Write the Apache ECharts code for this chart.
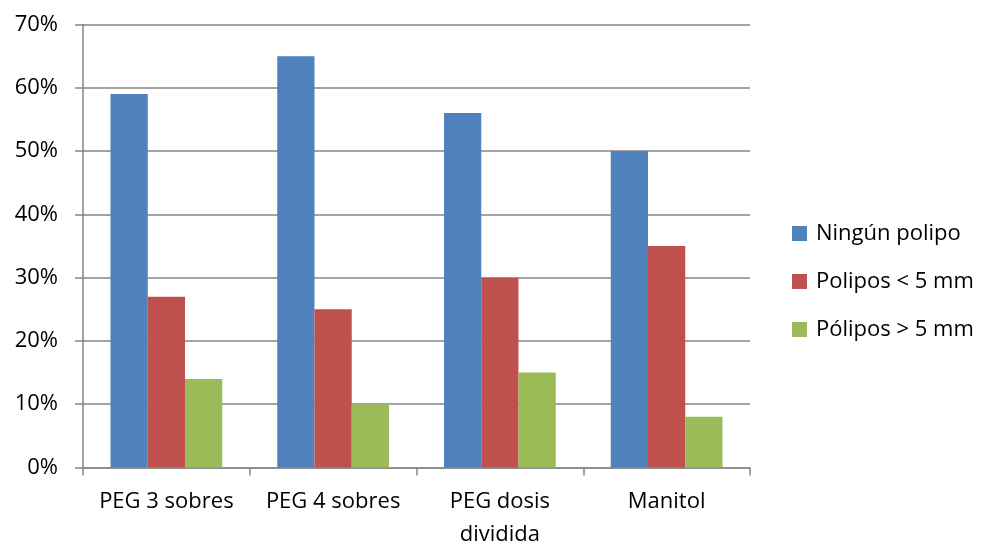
<!DOCTYPE html>
<html>
<head>
<meta charset="utf-8">
<script src="https://cdn.jsdelivr.net/npm/echarts@6/dist/echarts.min.js"></script>
<style>
  html, body { margin: 0; padding: 0; background: #ffffff; }
  #chart { width: 984px; height: 546px; }
</style>
</head>
<body>
<div id="chart"></div>
<script>
// Preparations compared and the share of patients in each polyp group
const categories = ['PEG 3 sobres', 'PEG 4 sobres', 'PEG dosis\ndividida', 'Manitol'];
const seriesNames = ['Ningún polipo', 'Polipos < 5 mm', 'Pólipos > 5 mm'];
const ningunPolipo = [59, 65, 56, 50];
const polipoMenor5 = [27, 25, 30, 35];
const polipoMayor5 = [14, 10, 15, 8];
const colors = ['#4F81BD', '#C0504D', '#9BBB59'];

const font = '"Open Sans", sans-serif';
const chart = echarts.init(document.getElementById('chart'));

const makeSeries = (name, data, color) => ({
  name: name,
  type: 'bar',
  data: data,
  barGap: '0%',
  barCategoryGap: '33%',
  itemStyle: { color: color },
  animation: false
});

chart.setOption({
  animation: false,
  color: colors,
  grid: { left: 83, right: 234, top: 24.5, bottom: 78.5, containLabel: false, outerBoundsMode: 'none' },
  legend: {
    orient: 'vertical',
    left: 787,
    top: 217.5,
    itemWidth: 15,
    itemHeight: 15,
    itemGap: 26,
    icon: 'rect',
    textStyle: { fontFamily: font, fontSize: 22, lineHeight: 22, color: '#000000', padding: [0, 0, 0, 4] },
    data: seriesNames
  },
  xAxis: {
    type: 'category',
    data: categories,
    axisLine: { lineStyle: { color: '#868686', width: 1.5 } },
    axisTick: { show: true, length: 8, inside: false, alignWithLabel: false, lineStyle: { color: '#868686', width: 1.5 } },
    axisLabel: { fontFamily: font, fontSize: 22, color: '#000000', margin: 18, lineHeight: 33, interval: 0 }
  },
  yAxis: {
    type: 'value',
    min: 0,
    max: 70,
    interval: 10,
    axisLine: { show: true, lineStyle: { color: '#868686', width: 1.5 } },
    axisTick: { show: true, length: 8, lineStyle: { color: '#868686', width: 1.5 } },
    splitLine: { show: true, lineStyle: { color: '#868686', width: 1.5 } },
    axisLabel: { fontFamily: font, fontSize: 22, color: '#000000', margin: 25, formatter: '{value}%' }
  },
  series: [
    makeSeries(seriesNames[0], ningunPolipo, colors[0]),
    makeSeries(seriesNames[1], polipoMenor5, colors[1]),
    makeSeries(seriesNames[2], polipoMayor5, colors[2])
  ]
});
</script>
</body>
</html>
